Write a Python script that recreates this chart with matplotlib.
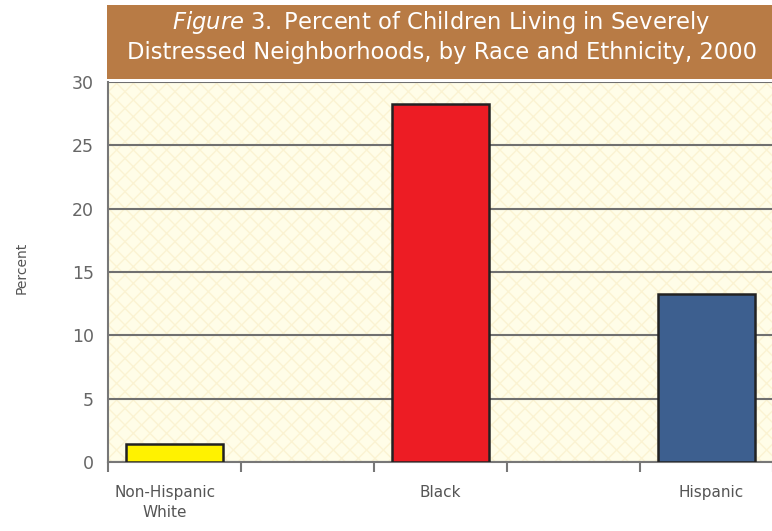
import matplotlib
matplotlib.use("Agg")
import matplotlib.pyplot as plt
from matplotlib.patches import Rectangle

# data
categories = ["Non-Hispanic\nWhite", "Black", "Hispanic"]
percent = [1.4, 28.3, 13.3]
bar_colors = ["#FFF200", "#ED1C24", "#3D5F8F"]
yticks = [0, 5, 10, 15, 20, 25, 30]

W, H = 772, 531
fig = plt.figure(figsize=(W / 100, H / 100), dpi=100)
fig.patch.set_facecolor("white")

# title band
fig.patches.append(Rectangle((107 / W, 1 - 79 / H), (W - 107) / W, 74 / H,
                             transform=fig.transFigure, facecolor="#B87B45",
                             edgecolor="none", zorder=0))
fig.text(441 / W, 1 - 23 / H, r"$\it{Figure\ 3.}$ Percent of Children Living in Severely",
         color="white", fontsize=16.3, ha="center", va="center")
fig.text(442 / W, 1 - 53 / H, "Distressed Neighborhoods, by Race and Ethnicity, 2000",
         color="white", fontsize=16.3, ha="center", va="center")

ax = fig.add_axes([108 / W, 1 - 462 / H, (778 - 108) / W, 380 / H])
ax.set_facecolor("#FFFDE8")
ax.add_patch(Rectangle((0, 0), 1, 1, transform=ax.transAxes, facecolor="none",
                       edgecolor="#FBF3D2", hatch="xx", linewidth=0, zorder=0))

xpos = [0.5, 2.5, 4.5]
ax.bar(xpos, percent, width=0.73, color=bar_colors, edgecolor="#222222",
       linewidth=1.8, zorder=3)

ax.set_xlim(0, 5.04)
ax.set_ylim(0, 30)
ax.set_yticks(yticks)
ax.set_yticklabels([str(t) for t in yticks], color="#666666", fontsize=12.5)
ax.tick_params(axis="y", length=0, pad=10)
ax.set_xticks([0, 1, 2, 3, 4, 5])
ax.set_xticklabels([])
ax.tick_params(axis="x", length=7, width=1.5, color="#777777", direction="out")
ax.yaxis.grid(True, color="#707070", linewidth=1.5, zorder=1)
ax.set_axisbelow(True)

for s in ["top", "right"]:
    ax.spines[s].set_visible(False)
for s in ["left", "bottom"]:
    ax.spines[s].set_color("#777777")
    ax.spines[s].set_linewidth(1.5)

for x, lab in zip([0.43, 2.5, 4.54], categories):
    ax.text(x, -1.8, lab, ha="center", va="top", fontsize=11, color="#555555",
            linespacing=1.45)

fig.text(22 / W, 1 - 268 / H, "Percent", rotation=90, ha="center", va="center",
         fontsize=10, color="#555555")

fig.savefig("out.png", dpi=100)
